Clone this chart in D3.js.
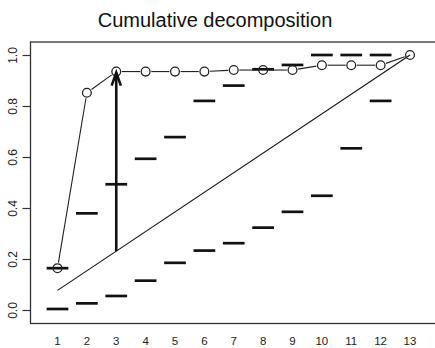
<!DOCTYPE html>
<html>
<head>
<meta charset="utf-8">
<script src="https://cdn.jsdelivr.net/npm/d3@7"></script>
<style>
  html, body { margin: 0; padding: 0; background: #fff; }
  svg { display: block; font-family: "Liberation Sans", Arial, Helvetica, sans-serif; }
</style>
</head>
<body>
<svg id="chart" width="435" height="348"></svg>
<script>
// Step labels along the x axis
const steps = [1, 2, 3, 4, 5, 6, 7, 8, 9, 10, 11, 12, 13];
// Lower and upper bounds per step (null = no bound drawn)
const lowerBound = [0.004, 0.026, 0.055, 0.115, 0.185, 0.233, 0.262, 0.323, 0.385, 0.448, 0.634, 0.820, null];
const upperBound = [0.164, 0.379, 0.493, 0.593, 0.678, 0.820, 0.880, 0.944, 0.961, 1.000, 1.000, 1.000, null];
// Cumulative share reached at each step
const cumulative = [0.164, 0.852, 0.935, 0.935, 0.935, 0.935, 0.941, 0.941, 0.941, 0.960, 0.960, 0.960, 1.000];
// Reference diagonal (end points)
const diagonalSteps = [1, 13];
const diagonalValues = [0.077, 1.000];
// Highlighted jump
const arrowStep = 3;
const arrowFrom = 0.231;
const arrowTo = 0.935;
// Y tick values
const yTicks = [0, 0.2, 0.4, 0.6, 0.8, 1.0];

const svg = d3.select("#chart");
const ink = "#111";

const x = d3.scaleLinear().domain([1, 13]).range([57.5, 410]);
const y = d3.scaleLinear().domain([0, 1]).range([310, 55]);

// Plot frame
const fx0 = 30.5, fx1 = 440, fy0 = 42, fy1 = 323.5;
svg.append("rect")
  .attr("x", fx0).attr("y", fy0)
  .attr("width", fx1 - fx0).attr("height", fy1 - fy0)
  .attr("fill", "none").attr("stroke", "#333").attr("stroke-width", 1.3);

// Title
svg.append("text")
  .attr("x", 215).attr("y", 27)
  .attr("text-anchor", "middle")
  .attr("font-size", 20)
  .attr("fill", "#111")
  .text("Cumulative decomposition");

// Y axis with rotated labels
const yAxis = svg.append("g")
  .attr("transform", `translate(${fx0},0)`)
  .call(d3.axisLeft(y).tickValues(yTicks).tickSize(8).tickFormat(d3.format(".1f")));
yAxis.select(".domain").remove();
yAxis.selectAll(".tick line").attr("stroke", "#333").attr("stroke-width", 1.2);
yAxis.selectAll(".tick text")
  .attr("x", null).attr("dy", null)
  .attr("transform", "translate(-13.5,0) rotate(-90)")
  .attr("text-anchor", "middle")
  .attr("font-size", 12)
  .attr("fill", "#222");

// X labels (no tick marks)
svg.append("g").selectAll("text")
  .data(steps)
  .join("text")
  .attr("x", d => x(d))
  .attr("y", 345)
  .attr("text-anchor", "middle")
  .attr("font-size", 11.5)
  .attr("fill", "#222")
  .text(d => d);

// Diagonal reference line
svg.append("line")
  .attr("x1", x(diagonalSteps[0])).attr("y1", y(diagonalValues[0]))
  .attr("x2", x(diagonalSteps[1])).attr("y2", y(diagonalValues[1]))
  .attr("stroke", ink).attr("stroke-width", 1.1);

// Bound dashes
const halfDash = 0.37;
const dashData = [];
steps.forEach((s, i) => {
  if (lowerBound[i] != null) dashData.push({ s, v: lowerBound[i] });
  if (upperBound[i] != null) dashData.push({ s, v: upperBound[i] });
});
svg.append("g").selectAll("line")
  .data(dashData)
  .join("line")
  .attr("x1", d => x(d.s - halfDash))
  .attr("x2", d => x(d.s + halfDash))
  .attr("y1", d => y(d.v))
  .attr("y2", d => y(d.v))
  .attr("stroke", ink)
  .attr("stroke-width", 2.7);

// Cumulative line: segments stop short of the markers
const r = 4.4;
const gap = r + 1.2;
const pts = steps.map((s, i) => [x(s), y(cumulative[i])]);
const segs = [];
for (let i = 0; i < pts.length - 1; i++) {
  const [ax, ay] = pts[i], [bx, by] = pts[i + 1];
  const len = Math.hypot(bx - ax, by - ay);
  if (len <= 2 * gap) continue;
  const ux = (bx - ax) / len, uy = (by - ay) / len;
  segs.push([ax + ux * gap, ay + uy * gap, bx - ux * gap, by - uy * gap]);
}
svg.append("g").selectAll("line")
  .data(segs)
  .join("line")
  .attr("x1", d => d[0]).attr("y1", d => d[1])
  .attr("x2", d => d[2]).attr("y2", d => d[3])
  .attr("stroke", "#222").attr("stroke-width", 1.1);

svg.append("g").selectAll("circle")
  .data(pts)
  .join("circle")
  .attr("cx", d => d[0]).attr("cy", d => d[1])
  .attr("r", r)
  .attr("fill", "none")
  .attr("stroke", "#222")
  .attr("stroke-width", 1.3);

// Arrow for the jump at the highlighted step
const ax = x(arrowStep), ay0 = y(arrowFrom), ay1 = y(arrowTo);
svg.append("line")
  .attr("x1", ax).attr("y1", ay0)
  .attr("x2", ax).attr("y2", ay1 + 1)
  .attr("stroke", ink).attr("stroke-width", 2.6);
svg.append("path")
  .attr("d", `M${ax - 4.6},${ay1 + 14} L${ax},${ay1 + 1} L${ax + 4.6},${ay1 + 14}`)
  .attr("fill", "none")
  .attr("stroke", ink)
  .attr("stroke-width", 2.6)
  .attr("stroke-linejoin", "miter");
</script>
</body>
</html>
